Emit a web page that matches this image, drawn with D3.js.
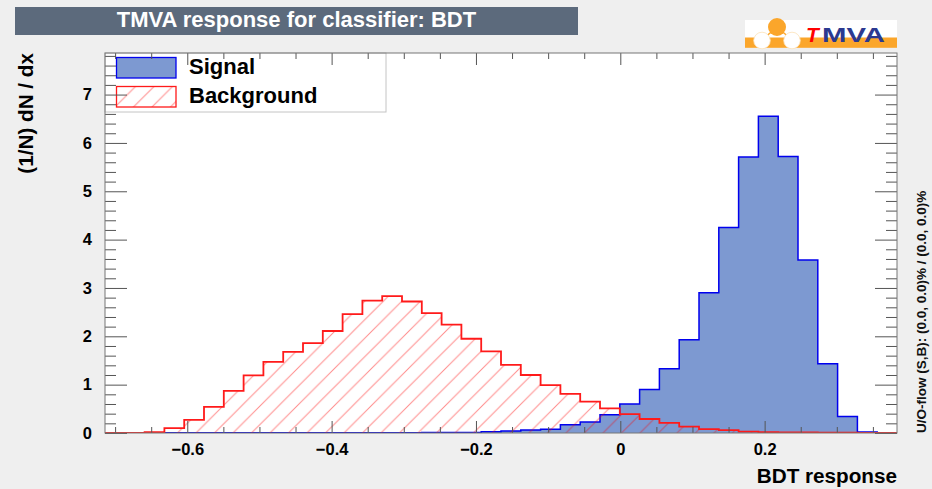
<!DOCTYPE html>
<html><head><meta charset="utf-8">
<script src="https://cdn.jsdelivr.net/npm/d3@7"></script>
<style>
body{margin:0;background:#efefef;}
svg{display:block;}
text{font-family:"Liberation Sans",Arial,Helvetica,sans-serif;font-weight:bold;}
</style>
</head><body>
<svg id="c" width="932" height="489"></svg>
<script>
// ---- data ----
const binLow = -0.714, binHigh = 0.3834, nBins = 40;
const signal = [0,0,0.005,0.005,0.005,0.005,0.005,0.005,0.005,0.005,
                0.005,0.005,0.005,0.005,0.006,0.006,0.008,0.01,0.012,0.025,
                0.04,0.06,0.08,0.17,0.23,0.38,0.60,0.90,1.33,1.93,
                2.90,4.25,5.71,6.55,5.72,3.58,1.43,0.34,0.02,0];
const background = [0,0,0.02,0.10,0.27,0.54,0.87,1.19,1.47,1.68,
                    1.86,2.11,2.46,2.74,2.83,2.72,2.48,2.24,1.95,1.69,
                    1.41,1.20,0.99,0.81,0.65,0.51,0.39,0.29,0.21,0.13,
                    0.08,0.06,0.03,0.02,0.01,0.01,0.005,0.005,0.003,0];
const xTickValues = [-0.6,-0.4,-0.2,0,0.2];
const yTickValues = [0,1,2,3,4,5,6,7];
const yMax = 7.86;
const legendLabels = ["Signal","Background"];
const titleText = "TMVA response for classifier: BDT";
const xTitle = "BDT response";
const yTitle = "(1/N) dN / dx";
const overflowText = "U/O-flow (S,B): (0.0, 0.0)% / (0.0, 0.0)%";

// ---- layout ----
const F = {l:105, r:897, t:53, b:433};
const svg = d3.select("#c");
const x = d3.scaleLinear().domain([binLow, binHigh]).range([F.l, F.r]);
const y = d3.scaleLinear().domain([0, yMax]).range([F.b, F.t]);
const bw = (binHigh - binLow) / nBins;

const defs = svg.append("defs");
defs.append("clipPath").attr("id","fc").append("rect")
  .attr("x",F.l).attr("y",F.t).attr("width",F.r-F.l).attr("height",F.b-F.t);
const hp = 18.5;
const pat = defs.append("pattern").attr("id","hatch").attr("patternUnits","userSpaceOnUse")
  .attr("width",hp).attr("height",hp);
pat.append("path").attr("d",`M0,${hp} L${hp},0 M${-hp/2},${hp/2} L${hp/2},${-hp/2} M${hp/2},${hp*1.5} L${hp*1.5},${hp/2}`)
  .attr("stroke","#ff0000").attr("stroke-opacity",0.45).attr("stroke-width",1).attr("fill","none");

svg.append("rect").attr("width",932).attr("height",489).attr("fill","#efefef");
svg.append("rect").attr("x",F.l).attr("y",F.t).attr("width",F.r-F.l).attr("height",F.b-F.t).attr("fill","#ffffff");

function stepPoints(vals){
  const pts = [[binLow,0]];
  vals.forEach((v,i)=>{ pts.push([binLow+i*bw, v]); pts.push([binLow+(i+1)*bw, v]); });
  pts.push([binHigh,0]);
  return pts;
}
const line = d3.line().x(d=>x(d[0])).y(d=>y(d[1]));
const g = svg.append("g").attr("clip-path","url(#fc)");

// signal
g.append("path").attr("d", line(stepPoints(signal))+"Z").attr("fill","#7d99d1").attr("stroke","none");
g.append("path").attr("d", line(stepPoints(signal))).attr("fill","none").attr("stroke","#0000ee").attr("stroke-width",1.5);
// background
g.append("path").attr("d", line(stepPoints(background))+"Z").attr("fill","url(#hatch)").attr("stroke","none");
g.append("path").attr("d", line(stepPoints(background))).attr("fill","none").attr("stroke","#ff1a1a").attr("stroke-width",1.8);

// legend
const lg = svg.append("g");
lg.append("rect").attr("x",F.l).attr("y",F.t).attr("width",281).attr("height",59)
  .attr("fill","#fff").attr("stroke","#c4c4c4").attr("stroke-width",1);
lg.append("rect").attr("x",116.5).attr("y",57.5).attr("width",59.5).attr("height",20.5)
  .attr("fill","#7d99d1").attr("stroke","#0000ee").attr("stroke-width",1.3);
lg.append("rect").attr("x",116.5).attr("y",86.5).attr("width",59.5).attr("height",20.5)
  .attr("fill","url(#hatch)").attr("stroke","#ff1a1a").attr("stroke-width",1.3);
lg.selectAll("text.lab").data(legendLabels).enter().append("text")
  .attr("x",189).attr("y",(d,i)=>74+i*29.3).attr("font-size",22).attr("fill","#000").text(d=>d);

// axes
const tickCol = "#555";
const xMinor = d3.range(-14, 8).map(i=>+(i*0.05).toFixed(2)).filter(v=>v>binLow && v<binHigh && !xTickValues.includes(v));
const yMinor = d3.range(0, 40).map(i=>+(i*0.2).toFixed(1)).filter(v=>v<yMax && !yTickValues.includes(v));
function styleAxis(sel, labels){
  sel.select(".domain").remove();
  sel.selectAll(".tick line").attr("stroke",tickCol);
  if(!labels) sel.selectAll(".tick text").remove();
  else sel.selectAll(".tick text").attr("font-size",16.5).attr("fill","#000")
     .attr("font-family",'"Liberation Sans",Arial,sans-serif').attr("font-weight","bold");
}
const fmt = d3.format("");
svg.append("g").attr("transform",`translate(0,${F.b})`)
  .call(d3.axisBottom(x).tickValues(xTickValues).tickSizeInner(-12).tickSizeOuter(0).tickPadding(10.5).tickFormat(fmt))
  .call(s=>styleAxis(s,true));
svg.append("g").attr("transform",`translate(0,${F.b})`)
  .call(d3.axisBottom(x).tickValues(xMinor).tickSizeInner(-6).tickSizeOuter(0)).call(s=>styleAxis(s,false));
svg.append("g").attr("transform",`translate(0,${F.t})`)
  .call(d3.axisTop(x).tickValues(xTickValues).tickSizeInner(-12).tickSizeOuter(0)).call(s=>styleAxis(s,false));
svg.append("g").attr("transform",`translate(0,${F.t})`)
  .call(d3.axisTop(x).tickValues(xMinor).tickSizeInner(-6).tickSizeOuter(0)).call(s=>styleAxis(s,false));
svg.append("g").attr("transform",`translate(${F.l},0)`)
  .call(d3.axisLeft(y).tickValues(yTickValues).tickSizeInner(-22).tickSizeOuter(0).tickPadding(13).tickFormat(fmt))
  .call(s=>styleAxis(s,true));
svg.append("g").attr("transform",`translate(${F.l},0)`)
  .call(d3.axisLeft(y).tickValues(yMinor).tickSizeInner(-11).tickSizeOuter(0)).call(s=>styleAxis(s,false));
svg.append("g").attr("transform",`translate(${F.r},0)`)
  .call(d3.axisRight(y).tickValues(yTickValues).tickSizeInner(-22).tickSizeOuter(0)).call(s=>styleAxis(s,false));
svg.append("g").attr("transform",`translate(${F.r},0)`)
  .call(d3.axisRight(y).tickValues(yMinor).tickSizeInner(-11).tickSizeOuter(0)).call(s=>styleAxis(s,false));

// frame
svg.append("rect").attr("x",F.l).attr("y",F.t).attr("width",F.r-F.l).attr("height",F.b-F.t)
  .attr("fill","none").attr("stroke","#777").attr("stroke-width",1);

// axis titles
svg.append("text").attr("x",F.r).attr("y",483).attr("text-anchor","end").attr("font-size",20.7).text(xTitle);
svg.append("text").attr("transform",`translate(33,${F.t}) rotate(-90)`).attr("text-anchor","end")
  .attr("font-size",20.7).text(yTitle);
svg.append("text").attr("transform",`translate(926,${F.b}) rotate(-90)`).attr("text-anchor","start")
  .attr("font-size",13.5).attr("fill","#111").text(overflowText);

// title box
svg.append("rect").attr("x",15).attr("y",7).attr("width",563).attr("height",28).attr("fill","#5c6a7c");
svg.append("text").attr("x",296.5).attr("y",27).attr("text-anchor","middle").attr("font-size",22)
  .attr("fill","#fff").text(titleText);

// TMVA logo
const logo = svg.append("g");
const orange = "#fba62b";
logo.append("rect").attr("x",745).attr("y",20).attr("width",152).attr("height",18).attr("fill","#fff");
logo.append("rect").attr("x",745).attr("y",37.5).attr("width",152).attr("height",10.3).attr("fill",orange);
logo.append("path").attr("d","M777,27 L762,40 M777,27 L792,40 M762,40 L792,40").attr("stroke",orange).attr("stroke-width",1.5);
logo.append("circle").attr("cx",777).attr("cy",27).attr("r",9).attr("fill",orange);
logo.append("circle").attr("cx",762).attr("cy",40.5).attr("r",8.3).attr("fill","#fff").attr("stroke","#fde2b8").attr("stroke-width",0.8);
logo.append("circle").attr("cx",792).attr("cy",40.5).attr("r",8.3).attr("fill","#fff").attr("stroke","#fde2b8").attr("stroke-width",0.8);
logo.append("text").attr("x",806).attr("y",42).attr("font-size",21).attr("font-style","italic").attr("fill","#ff0000").text("T");
logo.append("text").attr("x",822).attr("y",42).attr("font-size",21).attr("fill","#2b3990")
  .attr("textLength",63).attr("lengthAdjust","spacingAndGlyphs").text("MVA");
</script>
</body></html>
